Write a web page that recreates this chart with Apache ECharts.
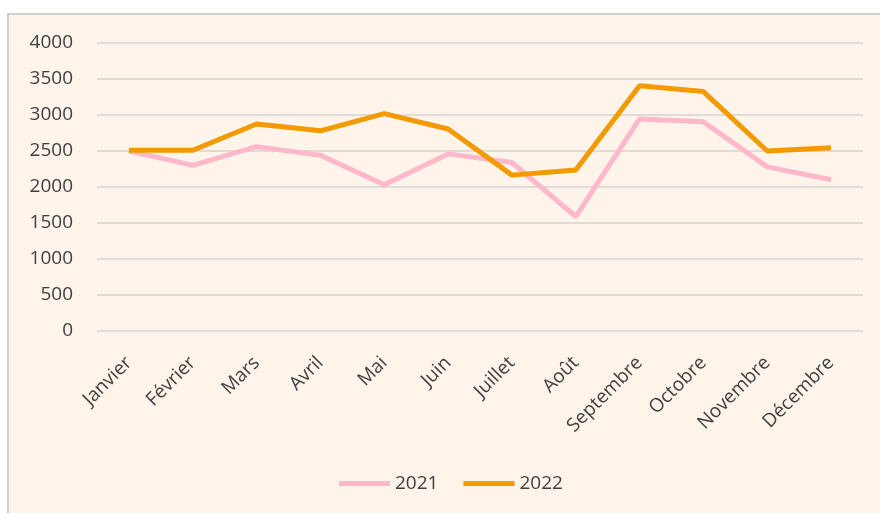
<!DOCTYPE html>
<html>
<head>
<meta charset="utf-8">
<script src="https://cdn.jsdelivr.net/npm/echarts@6/dist/echarts.min.js"></script>
<style>
  html, body { margin: 0; padding: 0; background: #fff; }
  #chart { width: 880px; height: 513px; }
</style>
</head>
<body>
<div id="chart"></div>
<script>
var months = ["Janvier", "Février", "Mars", "Avril", "Mai", "Juin", "Juillet", "Août", "Septembre", "Octobre", "Novembre", "Décembre"];
var values2021 = [2500, 2300, 2560, 2440, 2030, 2460, 2340, 1590, 2945, 2905, 2280, 2100];
var values2022 = [2510, 2510, 2875, 2780, 3020, 2805, 2165, 2235, 3405, 3325, 2500, 2545];
var yTicks = { min: 0, max: 4000, interval: 500 };

var textColor = "#404040";
var fontName = "Open Sans";

var myChart = echarts.init(document.getElementById("chart"), null, { renderer: "canvas" });
var option = {
  backgroundColor: "#ffffff",
  animation: false,
  graphic: [
    {
      type: "rect",
      z: -10,
      shape: { x: 8, y: 14, width: 900, height: 520 },
      style: { fill: "#fef4ea", stroke: "#d0d0d0", lineWidth: 2 },
    },
  ],
  color: ["#ffb7ca", "#f29a00"],
  grid: {
    top: 43,
    left: 97,
    right: 17,
    bottom: 182,
    containLabel: false,
  },
  legend: {
    top: 474,
    left: 339,
    padding: 0,
    itemWidth: 51,
    itemHeight: 5,
    itemGap: 25,
    icon: "rect",
    textStyle: { color: textColor, fontSize: 19, fontFamily: fontName },
    data: ["2021", "2022"],
  },
  xAxis: {
    type: "category",
    data: months,
    boundaryGap: true,
    axisLine: { show: false },
    axisTick: { show: false },
    axisLabel: {
      rotate: 45,
      interval: 0,
      margin: 29,
      color: textColor,
      fontSize: 19,
      fontFamily: fontName,
    },
  },
  yAxis: {
    type: "value",
    min: yTicks.min,
    max: yTicks.max,
    interval: yTicks.interval,
    axisLine: { show: false },
    axisTick: { show: false },
    axisLabel: {
      margin: 24,
      color: textColor,
      fontSize: 19,
      fontFamily: fontName,
      formatter: function (v) {
        return String(v);
      },
    },
    splitLine: { lineStyle: { color: "#d6d3cf", width: 1.5 } },
  },
  series: [
    {
      name: "2021",
      type: "line",
      data: values2021,
      symbol: "none",
      lineStyle: { width: 5 },
    },
    {
      name: "2022",
      type: "line",
      data: values2022,
      symbol: "none",
      lineStyle: { width: 5 },
    },
  ],
};
myChart.setOption(option);
</script>
</body>
</html>
